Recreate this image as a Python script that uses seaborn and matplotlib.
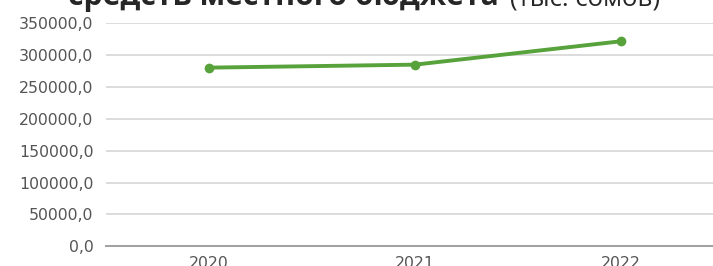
import matplotlib
matplotlib.use("Agg")
import pandas as pd
import seaborn as sns
import matplotlib.pyplot as plt
from matplotlib.ticker import FuncFormatter, MultipleLocator

# data
years = ["2020", "2021", "2022"]
budget = [280400, 285100, 321800]
title_bold = "средств местного бюджета"
title_unit = "(тыс. сомов)"

df = pd.DataFrame({"year": years, "budget": budget})

sns.set_style("white")
plt.rcParams["font.family"] = ["DejaVu Sans"]

W, H = 713, 266
fig = plt.figure(figsize=(W / 100, H / 100), dpi=100)
ax = fig.add_axes([106 / W, (H - 246.3) / H, 618 / W, (246.3 - 23.3) / H])

sns.lineplot(data=df, x="year", y="budget", ax=ax, color="#58a23c",
             linewidth=2.8, marker="o", markersize=7, markeredgewidth=0)

ax.set_xlim(-0.5, 2.5)
ax.set_ylim(0, 350000)
ax.yaxis.set_major_locator(MultipleLocator(50000))
ax.yaxis.set_major_formatter(FuncFormatter(lambda v, p: f"{v:.1f}".replace(".", ",")))
ax.grid(axis="y", color="#d9d9d9", linewidth=1.3)
ax.set_axisbelow(True)
for s in ["top", "right", "left"]:
    ax.spines[s].set_visible(False)
ax.spines["bottom"].set_color("#a0a0a0")
ax.spines["bottom"].set_linewidth(1.4)
ax.tick_params(axis="both", length=0, labelsize=11.3, labelcolor="#555555")
ax.tick_params(axis="y", pad=9)
ax.tick_params(axis="x", pad=7)
ax.set_xlabel("")
ax.set_ylabel("")

# title, cut off at the top of the picture like in the reference
fam = ["Open Sans", "DejaVu Sans"]
t1 = fig.text(68 / W, (H - 5.5) / H, title_bold, fontsize=21, fontweight="bold",
              family=fam, va="baseline", ha="left")
t2 = fig.text(510 / W, (H - 5.5) / H, title_unit, fontsize=21,
              family=fam, va="baseline", ha="left")
fig.canvas.draw()
r = fig.canvas.get_renderer()
t1.set_fontsize(21 * 429 / t1.get_window_extent(r).width)
t2.set_fontsize(21 * 150 / t2.get_window_extent(r).width)

fig.savefig("out.png", dpi=100)
